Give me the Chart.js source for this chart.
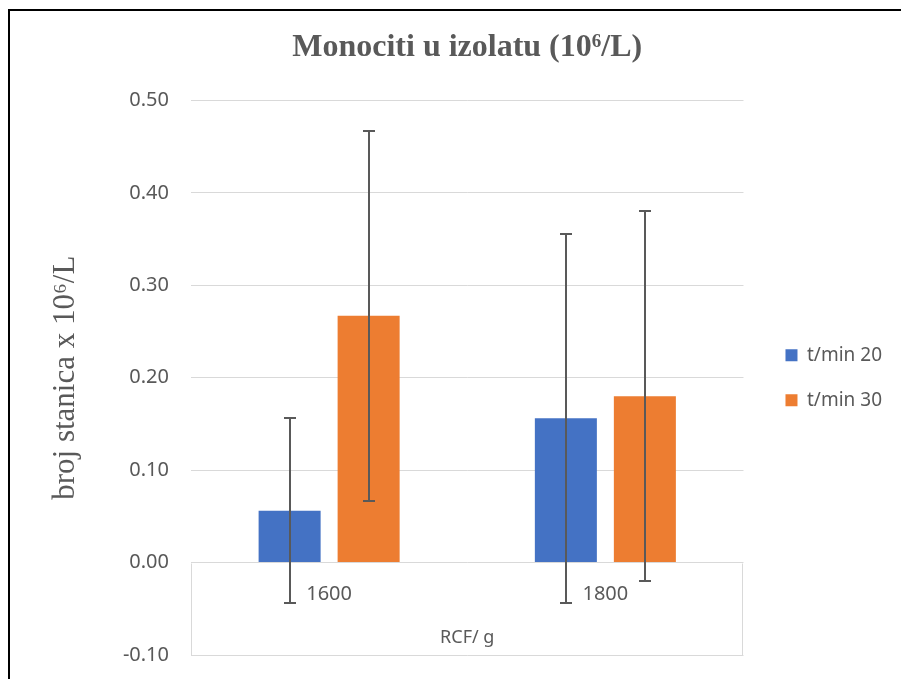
<!DOCTYPE html>
<html>
<head>
<meta charset="utf-8">
<script src="https://cdn.jsdelivr.net/npm/chart.js@4.4.0/dist/chart.umd.min.js"></script>
<style>
  html, body { margin: 0; padding: 0; background: #fff; overflow: hidden; }
  #frame { position: absolute; left: 8px; top: 9px; width: 1000px; height: 800px; border: 2px solid #000; }
  #chart { position: absolute; left: 0; top: 0; display: block; }
</style>
</head>
<body>
<div id="frame"></div>
<canvas id="chart" width="901" height="679"></canvas>
<script>
// data
const categories = ['1600', '1800'];
const seriesNames = ['t/min 20', 't/min 30'];
const values20 = [0.056, 0.156];
const values30 = [0.267, 0.180];
const errors20 = [0.100, 0.200];
const errors30 = [0.200, 0.200];
const yTicks = [-0.1, 0, 0.1, 0.2, 0.3, 0.4, 0.5];

const grey = '#595959';
const gridGrey = '#d9d9d9';
const sans = "'Noto Sans', 'Open Sans', sans-serif";
const serif = "'Liberation Serif', 'Times New Roman', serif";

// error bars on top of the bars
const errorBars = {
  id: 'errorBars',
  afterDatasetsDraw(chart) {
    const { ctx } = chart;
    const y = chart.scales.y;
    ctx.save();
    ctx.strokeStyle = grey;
    ctx.lineWidth = 2;
    chart.data.datasets.forEach((ds, i) => {
      const meta = chart.getDatasetMeta(i);
      meta.data.forEach((bar, j) => {
        const v = ds.data[j], e = ds.errorBars[j];
        const top = Math.round(y.getPixelForValue(v + e));
        const bot = Math.round(y.getPixelForValue(v - e));
        const x = Math.round(bar.x);
        ctx.beginPath();
        ctx.moveTo(x, top); ctx.lineTo(x, bot);
        ctx.moveTo(x - 6, top); ctx.lineTo(x + 6, top);
        ctx.moveTo(x - 6, bot); ctx.lineTo(x + 6, bot);
        ctx.stroke();
      });
    });
    ctx.restore();
  }
};

// category axis sits on the zero line: light box below zero + labels just under it
const zeroAxis = {
  id: 'zeroAxis',
  beforeDatasetsDraw(chart) {
    const { ctx, chartArea } = chart;
    const x = chart.scales.x, y = chart.scales.y;
    const y0 = Math.round(y.getPixelForValue(0)) + 0.5;
    const l = Math.round(chartArea.left) + 0.5, r = Math.round(chartArea.right) - 0.5;
    ctx.save();
    ctx.strokeStyle = gridGrey;
    ctx.lineWidth = 1;
    ctx.beginPath();
    ctx.moveTo(l, y0); ctx.lineTo(l, chartArea.bottom);
    ctx.moveTo(r, y0); ctx.lineTo(r, chartArea.bottom);
    ctx.stroke();
    ctx.fillStyle = grey;
    ctx.font = "20px " + sans;
    ctx.textAlign = 'center';
    ctx.textBaseline = 'middle';
    categories.forEach((c, i) => ctx.fillText(c, x.getPixelForValue(i), y0 + 31));
    ctx.restore();
  }
};

// legend sits a bit away from the plot
const legendInset = {
  id: 'legendInset',
  afterLayout(chart) {
    const lg = chart.legend;
    if (lg) { lg.left += 16; lg.right += 16; }
  }
};

new Chart(document.getElementById('chart'), {
  type: 'bar',
  data: {
    labels: categories,
    datasets: [
      { label: seriesNames[0], data: values20, errorBars: errors20, backgroundColor: '#4472C4' },
      { label: seriesNames[1], data: values30, errorBars: errors30, backgroundColor: '#ED7D31' }
    ]
  },
  options: {
    responsive: false,
    animation: false,
    categoryPercentage: 0.572,
    barPercentage: 0.785,
    layout: { padding: { left: 10, top: 10, right: 25, bottom: 0 } },
    scales: {
      x: {
        grid: { display: false, drawTicks: false },
        border: { display: false },
        ticks: { display: false },
        title: { display: true, text: 'RCF/ g', color: grey, font: { family: sans, size: 18 }, padding: { top: 0, bottom: 30 } },
        afterFit(s) { s.height = 24; }
      },
      y: {
        min: -0.1,
        max: 0.5,
        afterBuildTicks(s) { s.ticks = yTicks.map(v => ({ value: v })); },
        grid: { color: gridGrey, lineWidth: 1, drawTicks: false },
        border: { display: false },
        ticks: { color: grey, font: { family: sans, size: 20 }, padding: 22, callback: v => Number(v).toFixed(2) },
        title: { display: true, text: 'broj stanica x 10\u2076/L', color: grey, font: { family: serif, size: 31 }, padding: { top: 37, bottom: 0 } },
        afterFit(s) { s.width = 181; s.paddingBottom = 0; }
      }
    },
    plugins: {
      title: {
        display: true,
        fullSize: false,
        text: 'Monociti u izolatu (10\u2076/L)',
        color: grey,
        font: { family: serif, size: 32, weight: 'bold' },
        padding: { top: 19, bottom: 33 }
      },
      legend: {
        position: 'right',
        fullSize: false,
        labels: { color: grey, font: { family: sans, size: 19 }, boxWidth: 12, boxHeight: 12, padding: 26 }
      },
      tooltip: { enabled: false }
    }
  },
  plugins: [errorBars, zeroAxis, legendInset]
});
</script>
</body>
</html>
